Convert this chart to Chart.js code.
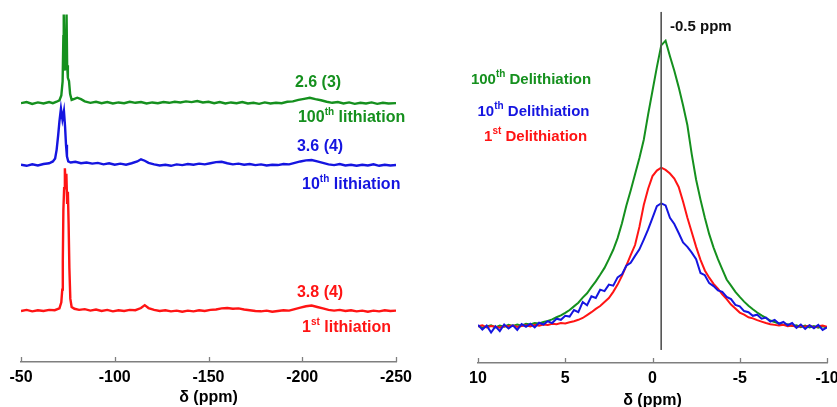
<!DOCTYPE html>
<html>
<head>
<meta charset="utf-8">
<script src="https://cdn.jsdelivr.net/npm/chart.js@4.4.1/dist/chart.umd.min.js"></script>
<style>
  html, body { margin: 0; padding: 0; background: #fff; overflow: hidden; }
  body { width: 837px; height: 407px; position: relative; }
  .panel { position: absolute; top: 0; }
  #leftPanel { left: 0; width: 420px; height: 407px; }
  #rightPanel { left: 440px; width: 420px; height: 410px; }
</style>
</head>
<body>
<div class="panel" id="leftPanel"><canvas id="lithChart"></canvas></div>
<div class="panel" id="rightPanel"><canvas id="delithChart"></canvas></div>
<script>
// ---- left panel: lithiated spectra (offset stack, arbitrary units) ----
const lith100X = [-50, -53, -56, -59, -62, -65, -67, -69, -70.5, -71.5, -72.2, -72.6, -72.8, -73.0, -73.4, -73.9, -74.3, -74.6, -75.0, -75.6, -76.2, -77, -78.5, -80, -82, -84, -87, -90, -93, -96, -99, -102, -105, -108, -111, -114, -117, -120, -123, -126, -129, -132, -135, -138, -141, -144, -147, -150, -153, -156, -159, -162, -165, -168, -171, -174, -177, -180, -183, -186, -189, -192, -195, -198, -201, -204, -207, -210, -213, -216, -219, -222, -225, -228, -231, -234, -237, -240, -243, -246, -250];
const lith100Y = [71.5, 71.8, 71.3, 71.7, 71.4, 71.8, 71.5, 71.9, 72.3, 73.6, 77.5, 90.0, 96.0, 84.0, 80.5, 85.0, 96.0, 82.0, 78.5, 77.6, 74.0, 72.4, 72.7, 73.0, 72.6, 72.0, 71.6, 71.9, 71.5, 71.8, 71.4, 71.7, 71.5, 71.9, 71.6, 71.8, 71.4, 71.7, 71.5, 71.8, 71.6, 71.9, 71.7, 72.0, 71.8, 72.1, 71.7, 71.9, 71.5, 71.8, 71.4, 71.7, 71.5, 71.8, 71.4, 71.6, 71.3, 71.7, 71.4, 71.6, 71.5, 71.9, 72.0, 72.4, 72.7, 73.0, 72.6, 72.3, 71.9, 71.6, 71.8, 71.4, 71.7, 71.3, 71.6, 71.4, 71.7, 71.3, 71.6, 71.4, 71.5];

const lith10X = [-50, -53, -56, -59, -62, -65, -67, -68.2, -69.0, -69.8, -70.5, -71.3, -72.1, -72.9, -73.5, -74.0, -74.5, -75.2, -76.5, -79, -82, -85, -88, -91, -94, -97, -100, -103, -106, -109, -112, -114, -116, -118, -121, -124, -127, -130, -133, -136, -139, -142, -145, -148, -151, -154, -157, -160, -163, -166, -169, -172, -175, -178, -181, -184, -187, -190, -193, -196, -199, -202, -205, -208, -211, -214, -217, -220, -223, -226, -229, -232, -235, -238, -241, -244, -247, -250];
const lith10Y = [54.5, 54.2, 54.6, 54.3, 54.7, 54.9, 55.4, 56.2, 58.6, 62.5, 66.5, 70.0, 67.0, 69.3, 65.0, 60.0, 56.8, 55.4, 55.1, 55.3, 54.9, 55.1, 54.8, 55.0, 54.6, 54.9, 54.5, 54.8, 54.5, 54.9, 55.4, 56.0, 55.6, 55.0, 54.6, 54.3, 54.5, 54.2, 54.6, 54.4, 54.7, 54.5, 54.8, 54.6, 54.9, 55.2, 55.3, 54.9, 54.6, 54.8, 54.5, 54.7, 54.4, 54.6, 54.3, 54.5, 54.4, 54.7, 54.6, 55.0, 55.4, 55.7, 55.8, 55.4, 55.0, 54.6, 54.4, 54.7, 54.3, 54.5, 54.2, 54.5, 54.3, 54.6, 54.2, 54.5, 54.3, 54.4];

const lith1X = [-50, -53, -56, -59, -62, -65, -68, -70.5, -71.5, -72.0, -72.3, -72.6, -73.0, -73.4, -73.8, -74.2, -74.6, -75.0, -75.4, -75.8, -76.3, -77, -78.5, -81, -84, -87, -90, -93, -96, -99, -102, -105, -108, -111, -114, -116, -118, -121, -124, -127, -130, -133, -136, -139, -142, -145, -148, -151, -154, -157, -160, -163, -166, -169, -172, -175, -178, -181, -184, -187, -190, -193, -196, -199, -202, -205, -208, -211, -214, -217, -220, -223, -226, -229, -232, -235, -238, -241, -244, -247, -250];
const lith1Y = [14.1, 14.4, 14.0, 14.3, 14.1, 14.4, 14.3, 14.8, 16.5, 20.0, 28.0, 42.0, 48.0, 53.5, 49.0, 52.0, 44.0, 47.0, 38.0, 26.0, 17.5, 15.2, 14.7, 14.4, 14.6, 14.2, 14.5, 14.1, 14.4, 14.0, 14.3, 14.1, 14.4, 14.3, 14.9, 15.7, 14.9, 14.4, 14.1, 14.3, 14.0, 14.2, 13.9, 14.2, 14.0, 14.3, 14.1, 14.4, 14.5, 14.8, 14.9, 14.7, 14.8, 14.5, 14.3, 14.1, 14.0, 14.2, 13.9, 14.1, 14.3, 14.2, 14.6, 15.0, 15.4, 15.6, 15.2, 14.8, 14.4, 14.2, 14.4, 14.1, 14.3, 14.0, 14.2, 13.9, 14.2, 14.0, 14.3, 14.1, 14.2];

const lithTicks = [-50, -100, -150, -200, -250];

// ---- right panel: delithiated spectra ----
const delithPpm = [10, 9.75, 9.5, 9.25, 9, 8.75, 8.5, 8.25, 8, 7.75, 7.5, 7.25, 7, 6.75, 6.5, 6.25, 6, 5.75, 5.5, 5.25, 5, 4.75, 4.5, 4.25, 4, 3.75, 3.5, 3.25, 3, 2.75, 2.5, 2.25, 2, 1.75, 1.5, 1.25, 1, 0.75, 0.5, 0.25, 0, -0.25, -0.5, -0.75, -1, -1.25, -1.5, -1.75, -2, -2.25, -2.5, -2.75, -3, -3.25, -3.5, -3.75, -4, -4.25, -4.5, -4.75, -5, -5.25, -5.5, -5.75, -6, -6.25, -6.5, -6.75, -7, -7.25, -7.5, -7.75, -8, -8.25, -8.5, -8.75, -9, -9.25, -9.5, -9.75, -10];
const delith100 = [0.2, -0.3, 0.1, 0.4, -0.2, 0.3, 0.0, 0.5, 0.2, 0.6, 0.3, 0.8, 0.6, 1.0, 0.9, 1.3, 1.6, 2.0, 2.6, 3.1, 3.8, 4.6, 5.6, 6.6, 8.0, 9.2, 10.9, 12.5, 14.3, 16.2, 18.6, 21.2, 24.4, 28.5, 33.3, 37.5, 42.0, 46.5, 51.5, 58.5, 65.0, 71.5, 77.5, 78.8, 74.5, 70.5, 66.0, 61.0, 55.5, 47.5, 40.5, 35.0, 30.0, 25.5, 21.8, 18.6, 15.8, 13.0, 11.3, 9.6, 8.2, 6.9, 5.8, 4.8, 3.9, 3.1, 2.4, 1.7, 1.3, 0.9, 0.5, 0.7, 0.2, 0.4, -0.1, 0.3, -0.2, 0.2, -0.3, 0.1, -0.2];
const delith10 = [0.5, -0.8, 0.3, -1.6, 0.1, -1.2, 0.6, -0.5, 0.4, -0.9, 0.7, 0.0, 0.8, -0.2, 1.1, 0.6, 1.5, 1.0, 2.2, 1.9, 3.0, 2.8, 4.6, 4.0, 6.8, 5.9, 8.4, 7.9, 10.2, 9.8, 11.6, 11.3, 13.6, 14.4, 16.8, 17.6, 19.5, 21.3, 24.0, 26.8, 30.0, 33.2, 34.0, 33.4, 30.0, 28.3, 25.8, 23.2, 22.0, 20.4, 18.6, 14.8, 14.2, 12.0, 11.2, 10.0, 9.6, 8.2, 7.6, 6.0, 5.6, 4.3, 4.0, 3.0, 3.3, 2.2, 2.5, 1.4, 1.9, 0.8, 1.3, 0.4, 1.0, -0.3, 0.6, -0.6, 0.4, -0.4, 0.5, -0.9, -0.2];
const delith1 = [0.1, 0.4, -0.2, 0.2, 0.0, -0.3, 0.2, 0.1, 0.3, -0.1, 0.2, 0.4, 0.1, 0.5, 0.3, 0.6, 0.5, 0.8, 0.7, 1.0, 0.9, 1.2, 1.5, 1.9, 2.4, 3.2, 4.0, 4.9, 5.7, 6.8, 7.9, 9.6, 11.6, 14.0, 16.8, 19.7, 22.5, 27.5, 33.5, 38.0, 41.5, 43.0, 43.8, 43.2, 42.2, 40.8, 38.5, 34.5, 30.0, 26.0, 22.0, 18.4, 15.5, 13.5, 11.8, 10.5, 8.9, 7.6, 6.1, 5.0, 3.9, 3.3, 2.6, 2.3, 1.8, 1.4, 1.0, 0.7, 0.5, 0.3, 0.5, 0.1, 0.3, -0.1, 0.2, 0.0, 0.3, -0.2, 0.1, 0.3, 0.0];

const markerPpm = -0.5;
const markerSpan = [86.7, -6.4];
const delithTicks = [10, 5, 0, -5, -10];

// colours
const GREEN = "#15901e";
const BLUE = "#1515e0";
const RED = "#ff1414";
const AXIS = "#7f7f7f";

Chart.defaults.font.family = "'Liberation Sans', Arial, sans-serif";
Chart.defaults.font.weight = "bold";
Chart.defaults.color = "#000";

function pairs(xs, ys) {
    return xs.map((x, i) => ({ x: x, y: ys[i] }));
}

function line(data, color, width) {
    return {
        data: data,
        borderColor: color,
        borderWidth: width,
        pointRadius: 0,
        tension: 0,
        fill: false
    };
}

/**
 * Inward tick marks on the x axis (short strokes going up from the axis line)
 */
const innerTicks = {
    id: "innerTicks",
    afterDraw(chart) {
        const scale = chart.scales.x;
        const ctx = chart.ctx;
        ctx.save();
        ctx.strokeStyle = AXIS;
        ctx.lineWidth = 1.3;
        scale.ticks.forEach(t => {
            const px = Math.round(scale.getPixelForValue(t.value)) + 0.5;
            ctx.beginPath();
            ctx.moveTo(px, scale.top);
            ctx.lineTo(px, scale.top - 5);
            ctx.stroke();
        });
        ctx.restore();
    }
};

/**
 * Text notes with superscripts, anchored in data coordinates
 */
const notesPlugin = {
    id: "notes",
    afterDraw(chart, args, opts) {
        const ctx = chart.ctx;
        const xs = chart.scales.x, ys = chart.scales.y;
        const size = opts.size;
        const family = Chart.defaults.font.family;
        ctx.save();
        ctx.textBaseline = "middle";
        (opts.items || []).forEach(n => {
            const widths = n.parts.map(p => {
                ctx.font = `bold ${p[1] ? Math.round(size * 0.64) : size}px ${family}`;
                return ctx.measureText(p[0]).width;
            });
            const total = widths.reduce((a, b) => a + b, 0);
            let px = xs.getPixelForValue(n.x);
            const py = ys.getPixelForValue(n.y);
            if (n.align === "center") px -= total / 2;
            ctx.fillStyle = n.color;
            ctx.textAlign = "left";
            n.parts.forEach((p, i) => {
                const sup = p[1];
                ctx.font = `bold ${sup ? Math.round(size * 0.64) : size}px ${family}`;
                ctx.fillText(p[0], px, sup ? py - size * 0.38 : py);
                px += widths[i];
            });
        });
        ctx.restore();
    }
};

function xAxis(min, max, ticks, height) {
    return {
        type: "linear",
        reverse: true,
        min: min,
        max: max,
        afterBuildTicks: scale => { scale.ticks = ticks.map(v => ({ value: v })); },
        afterFit: scale => { scale.height = height; },
        grid: { display: false, drawTicks: false },
        border: { display: true, color: AXIS, width: 1.5 },
        ticks: { padding: 6, color: "#000", font: { size: 16, weight: "bold" }, maxRotation: 0 },
        title: {
            display: true,
            text: "\u03b4 (ppm)",
            color: "#000",
            font: { size: 16, weight: "bold" },
            padding: { top: 0, bottom: 0 }
        }
    };
}

document.addEventListener("DOMContentLoaded", () => {
    // Left: lithiation spectra
    new Chart(document.getElementById("lithChart"), {
        type: "line",
        data: {
            datasets: [
                line(pairs(lith100X, lith100Y), GREEN, 2.4),
                line(pairs(lith10X, lith10Y), BLUE, 2.4),
                line(pairs(lith1X, lith1Y), RED, 2.4)
            ]
        },
        options: {
            responsive: true,
            maintainAspectRatio: false,
            animation: false,
            layout: { padding: { left: 21, right: 24, top: 0, bottom: 0 } },
            plugins: {
                legend: { display: false },
                tooltip: { enabled: false },
                notes: {
                    size: 16,
                    items: [
                        { x: -208.4, y: 77.3, align: "center", color: GREEN, parts: [["2.6 (3)"]] },
                        { x: -197.7, y: 67.4, align: "left", color: GREEN, parts: [["100"], ["th", true], [" lithiation"]] },
                        { x: -209.5, y: 59.4, align: "center", color: BLUE, parts: [["3.6 (4)"]] },
                        { x: -199.9, y: 48.9, align: "left", color: BLUE, parts: [["10"], ["th", true], [" lithiation"]] },
                        { x: -209.5, y: 19.3, align: "center", color: RED, parts: [["3.8 (4)"]] },
                        { x: -199.9, y: 9.4, align: "left", color: RED, parts: [["1"], ["st", true], [" lithiation"]] }
                    ]
                }
            },
            scales: {
                x: xAxis(-250, -50, lithTicks, 45),
                y: { display: false, min: 0, max: 100 }
            }
        },
        plugins: [innerTicks, notesPlugin]
    });

    // Right: delithiation spectra
    new Chart(document.getElementById("delithChart"), {
        type: "line",
        data: {
            datasets: [
                line(markerSpan.map(v => ({ x: markerPpm, y: v })), "#555", 1),
                line(pairs(delithPpm, delith10), BLUE, 2),
                line(pairs(delithPpm, delith1), RED, 2),
                line(pairs(delithPpm, delith100), GREEN, 2)
            ]
        },
        options: {
            responsive: true,
            maintainAspectRatio: false,
            animation: false,
            layout: { padding: { left: 38, right: 33, top: 0, bottom: 0 } },
            plugins: {
                legend: { display: false },
                tooltip: { enabled: false },
                notes: {
                    size: 15,
                    items: [
                        { x: -1.0, y: 82.6, align: "left", color: "#111", parts: [["-0.5 ppm"]] },
                        { x: 6.96, y: 68.0, align: "center", color: GREEN, parts: [["100"], ["th", true], [" Delithiation"]] },
                        { x: 6.82, y: 59.1, align: "center", color: BLUE, parts: [["10"], ["th", true], [" Delithiation"]] },
                        { x: 6.70, y: 52.3, align: "center", color: RED, parts: [["1"], ["st", true], [" Delithiation"]] }
                    ]
                }
            },
            scales: {
                x: xAxis(-10, 10, delithTicks, 47),
                y: { display: false, min: -10, max: 90 }
            }
        },
        plugins: [innerTicks, notesPlugin]
    });
});
</script>
</body>
</html>
